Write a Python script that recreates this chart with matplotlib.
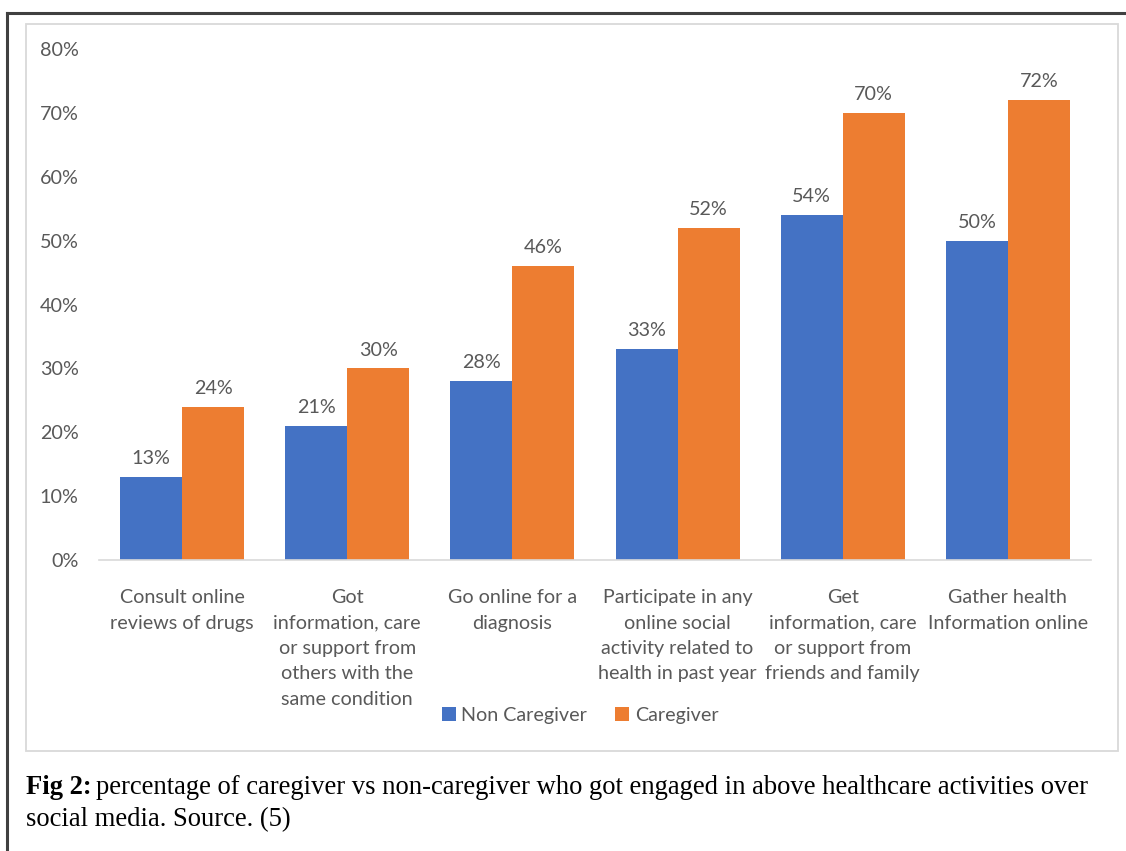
import matplotlib
matplotlib.use("Agg")
import matplotlib.pyplot as plt
import numpy as np
from matplotlib.patches import Rectangle
from matplotlib.lines import Line2D

categories = [
    "Consult online\nreviews of drugs",
    "Got\ninformation, care\nor support from\nothers with the\nsame condition",
    "Go online for a\ndiagnosis",
    "Participate in any\nonline social\nactivity related to\nhealth in past year",
    "Get\ninformation, care\nor support from\nfriends and family",
    "Gather health\nInformation online",
]
non_caregiver = [13, 21, 28, 33, 54, 50]
caregiver = [24, 30, 46, 52, 70, 72]
yticks = [0, 10, 20, 30, 40, 50, 60, 70, 80]

BLUE = "#4472C4"
ORANGE = "#ED7D31"
GREY = "#595959"
FONT = "Lato"
FS = 14.2

W, H = 1126, 851
fig = plt.figure(figsize=(W / 100, H / 100), dpi=100)
fig.patch.set_facecolor("white")


def fx(px):
    return px / W


def fy(py):
    return 1 - py / H


# outer dark frame (only top and left visible)
fig.add_artist(Line2D([fx(7), fx(7)], [fy(13), 0], color="#404040", lw=2.2,
                      transform=fig.transFigure))
fig.add_artist(Line2D([fx(7), 1], [fy(13), fy(13)], color="#404040", lw=2.2,
                      transform=fig.transFigure))
# light chart area border
fig.add_artist(Rectangle((fx(26), fy(751)), fx(1118) - fx(26), fy(24) - fy(751),
                         fill=False, edgecolor="#D9D9D9", lw=1.3,
                         transform=fig.transFigure))

ax = fig.add_axes([fx(99.5), fy(560), fx(1090.5) - fx(99.5), fy(49) - fy(560)])
x = np.arange(len(categories))
w = 0.375
b1 = ax.bar(x - w / 2, non_caregiver, w, color=BLUE, label="Non Caregiver")
b2 = ax.bar(x + w / 2, caregiver, w, color=ORANGE, label="Caregiver")

for bars, vals in ((b1, non_caregiver), (b2, caregiver)):
    for r, v in zip(bars, vals):
        ax.annotate(f"{v}%", (r.get_x() + r.get_width() / 2, v),
                    xytext=(0, 7), textcoords="offset points", ha="center",
                    va="bottom", fontsize=FS, color=GREY, family=FONT)

ax.set_xlim(-0.5, len(categories) - 0.5)
ax.set_ylim(0, 80)
ax.set_yticks(yticks)
ax.set_yticklabels([f"{t}%" for t in yticks], fontsize=FS, color=GREY, family=FONT)
ax.set_xticks(x)
ax.set_xticklabels(categories, fontsize=FS, color=GREY, family=FONT,
                   linespacing=1.6)
ax.tick_params(axis="both", length=0)
ax.tick_params(axis="x", pad=21)
ax.tick_params(axis="y", pad=15)
for s in ("top", "right", "left"):
    ax.spines[s].set_visible(False)
ax.spines["bottom"].set_color("#D9D9D9")
ax.spines["bottom"].set_linewidth(1.2)

fig.legend(handles=[b1, b2], loc="center", bbox_to_anchor=(fx(580), fy(715)),
           ncol=2, frameon=False, handlelength=0.7, handleheight=0.7,
           handletextpad=0.3, columnspacing=1.4,
           prop={"family": FONT, "size": FS}, labelcolor=GREY)

# caption
CFS = 19.2
cap = fig.text(fx(26), fy(788), "Fig 2:", fontsize=CFS, fontweight="bold",
               family="Liberation Serif", va="center", color="black")
fig.canvas.draw()
bb = cap.get_window_extent()
fig.text(bb.x1 / W + 0.004, fy(788),
         "percentage of caregiver vs non-caregiver who got engaged in above healthcare activities over",
         fontsize=CFS, family="Liberation Serif", va="center", color="black")
fig.text(fx(26), fy(820), "social media. Source. (5)", fontsize=CFS,
         family="Liberation Serif", va="center", color="black")

fig.savefig("out.png", dpi=100)
